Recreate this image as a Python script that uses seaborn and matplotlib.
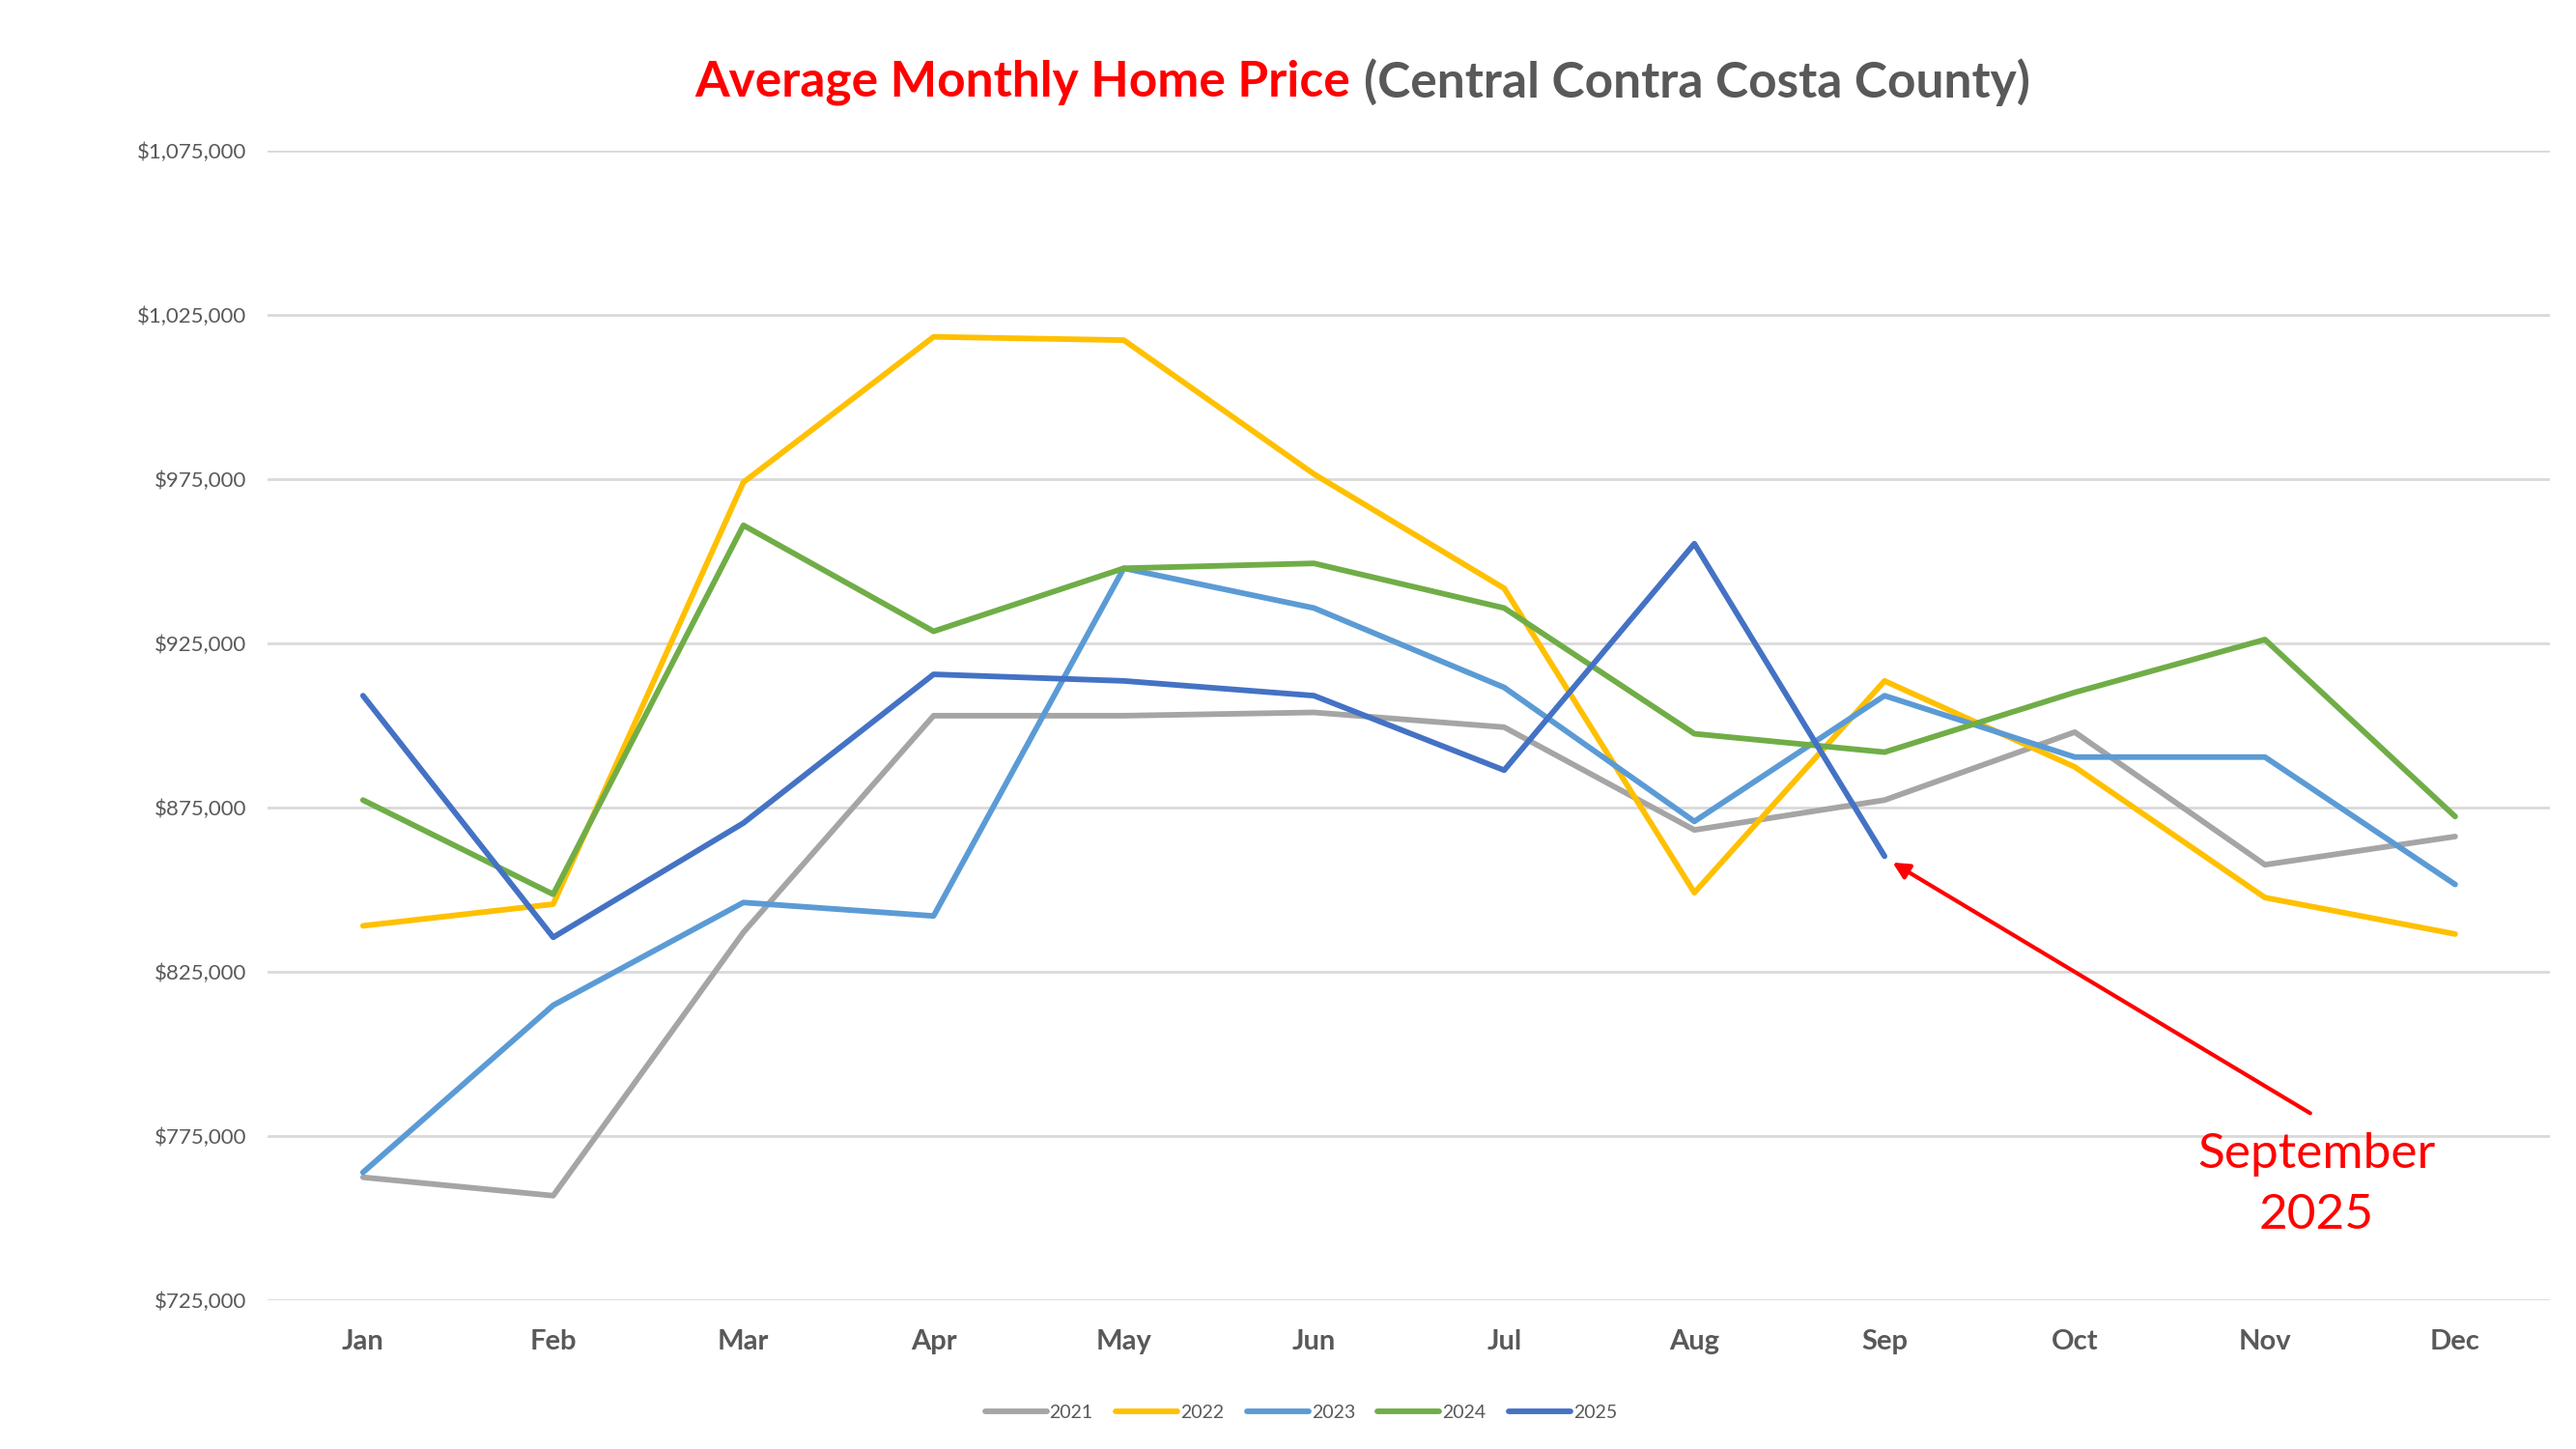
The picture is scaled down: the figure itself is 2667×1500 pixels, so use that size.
import pandas as pd
import numpy as np
import matplotlib
matplotlib.use("Agg")
import matplotlib.pyplot as plt
import matplotlib.ticker as mtick
import seaborn as sns

# monthly average prices
months = ["Jan", "Feb", "Mar", "Apr", "May", "Jun", "Jul", "Aug", "Sep", "Oct", "Nov", "Dec"]
price_2021 = [762300, 756700, 836900, 902900, 902900, 903900, 899400, 868100, 877200, 897900, 857500, 866100]
price_2022 = [838900, 845500, 974000, 1018300, 1017300, 976500, 941700, 849000, 913500, 887300, 847500, 836400]
price_2023 = [763800, 814700, 846000, 841900, 947800, 935700, 911500, 870700, 909000, 890300, 890300, 851500]
price_2024 = [877200, 848500, 960900, 928600, 947800, 949300, 935700, 897400, 891800, 910000, 926100, 872200]
price_2025 = [909000, 835400, 870200, 915500, 913500, 909000, 886300, 955300, 860100]

years = ["2021", "2022", "2023", "2024", "2025"]
colors = ["#A5A5A5", "#FFC000", "#5B9BD5", "#70AD47", "#4472C4"]
y_ticks = [725000, 775000, 825000, 875000, 925000, 975000, 1025000, 1075000]

# long format table for seaborn
rows = []
for yr, vals in zip(years, [price_2021, price_2022, price_2023, price_2024, price_2025]):
    for m, v in zip(months, vals):
        rows.append({"month": m, "price": v, "year": yr})
df = pd.DataFrame(rows)

sns.set_style("white")
plt.rcParams["font.family"] = ["Lato", "DejaVu Sans"]

fig = plt.figure(figsize=(26.67, 15), dpi=100)
ax = fig.add_axes([0.104, 0.103, 0.886, 0.793])

sns.lineplot(data=df, x="month", y="price", hue="year", palette=dict(zip(years, colors)),
             linewidth=4.2, sort=False, ax=ax)

ax.set_xlim(-0.5, 11.5)
ax.set_ylim(725000, 1075000)
ax.set_yticks(y_ticks)
ax.yaxis.set_major_formatter(mtick.FuncFormatter(lambda v, p: "${:,.0f}".format(v)))
ax.grid(axis="y", color="#D9D9D9", linewidth=2)
ax.set_axisbelow(True)
for s in ax.spines.values():
    s.set_visible(False)
ax.tick_params(axis="y", length=0, pad=16, labelsize=16, labelcolor="#595959")
ax.tick_params(axis="x", length=0, pad=22, labelsize=21, labelcolor="#595959")
for lab in ax.get_xticklabels():
    lab.set_fontweight("bold")
ax.set_xlabel("")
ax.set_ylabel("")

# legend at bottom
handles, labels = ax.get_legend_handles_labels()
ax.legend(handles, labels, loc="lower center", bbox_to_anchor=(0.505, 0.008),
          bbox_transform=fig.transFigure, ncol=5, frameon=False, fontsize=14,
          handlelength=3.3, handletextpad=0.15, columnspacing=1.2, labelcolor="#595959")

# annotation for September 2025
ax.annotate("", xy=(8.03, 858600), xytext=(10.25, 781400),
            arrowprops=dict(arrowstyle="-|>", color="#FF0000", lw=3, mutation_scale=25))
ax.text(10.27, 760000, "September\n2025", color="#FF0000", fontsize=37,
        ha="center", va="center", linespacing=1.45)

# two-colour title
r = fig.canvas.get_renderer()
W = fig.bbox.width
ty = 0.943
t1 = fig.text(0, ty, "Average Monthly Home Price", color="#FF0000", fontsize=37,
              fontweight="bold", va="center", ha="left")
t2 = fig.text(0, ty, "(Central Contra Costa County)", color="#595959", fontsize=37,
              fontweight="bold", va="center", ha="left")
w1 = t1.get_window_extent(r).width
w2 = t2.get_window_extent(r).width
gap = 14
start = 0.529 * W - (w1 + w2 + gap) / 2
t1.set_x(start / W)
t2.set_x((start + w1 + gap) / W)

fig.savefig("out.png", dpi=100)
